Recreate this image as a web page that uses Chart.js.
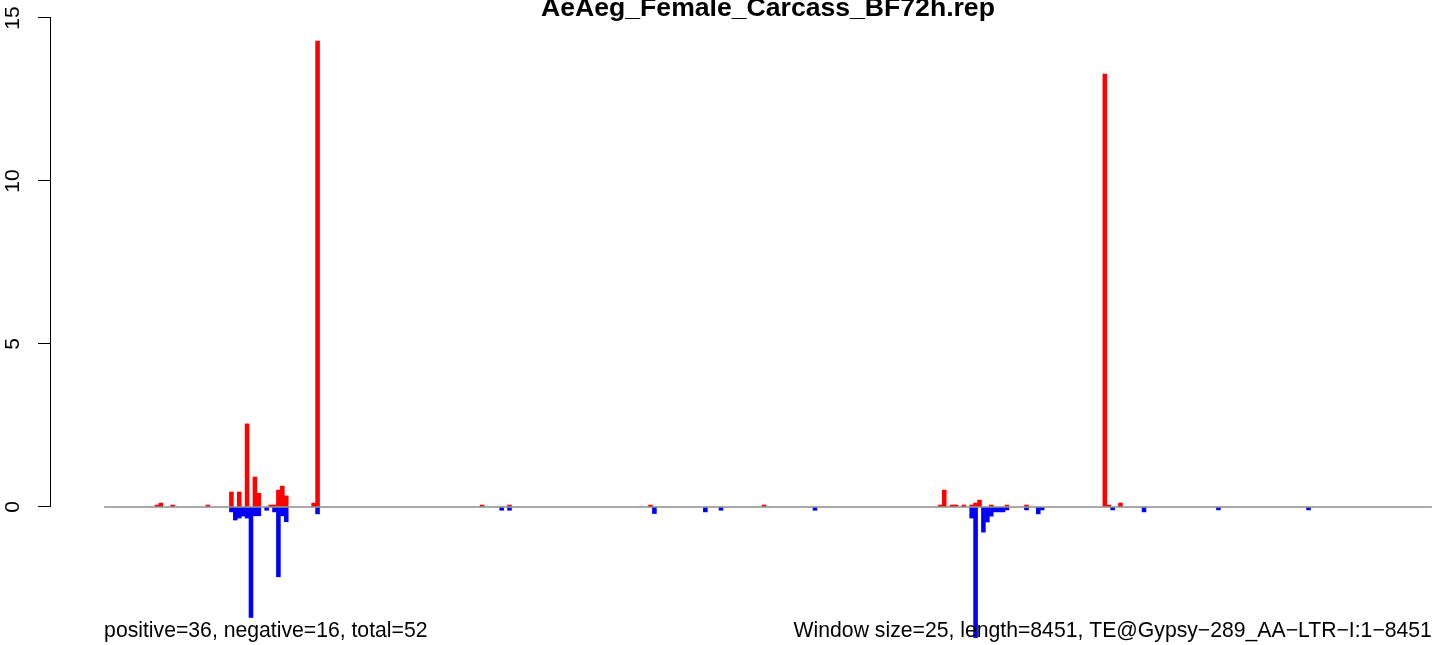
<!DOCTYPE html>
<html lang="en">
<head>
<meta charset="UTF-8">
<title>AeAeg_Female_Carcass_BF72h.rep</title>
<script src="https://cdn.jsdelivr.net/npm/chart.js"></script>
<style>
  html, body { margin: 0; padding: 0; background: #fff; }
  #wrap { width: 1444px; height: 645px; }
</style>
</head>
<body>
<div id="wrap"><canvas id="chart" width="1444" height="645"></canvas></div>
<script>
// --- data ---
const chartTitle = 'AeAeg_Female_Carcass_BF72h.rep';
const windowSize = 25;
const seqLength = 8451;
const nBins = Math.ceil(seqLength / windowSize); // 339 windows
const yTicks = [0, 5, 10, 15];

// window index -> coverage, positive strand
const posBins = [13, 14, 17, 26, 32, 34, 36, 38, 39, 42, 43, 44, 45, 46, 53, 54,
                 96, 103, 139, 168,
                 213, 214, 216, 217, 219, 221, 222, 223, 226, 230, 235,
                 255, 256, 259];
const posVals = [0.06, 0.12, 0.06, 0.06, 0.46, 0.46, 2.55, 0.92, 0.42, 0.06, 0.06, 0.52, 0.64, 0.34, 0.12, 14.29,
                 0.06, 0.06, 0.06, 0.06,
                 0.06, 0.52, 0.06, 0.06, 0.06, 0.06, 0.12, 0.21, 0.06, 0.06, 0.06,
                 13.28, 0.06, 0.12];

// negative strand
const negBins = [32, 33, 34, 35, 36, 37, 38, 39, 41, 43, 44, 45, 46, 54,
                 101, 103, 140, 153, 157, 181,
                 221, 222, 224, 225, 226, 227, 228, 229, 230, 235, 238, 239,
                 257, 265, 284, 307];
const negVals = [-0.15, -0.4, -0.34, -0.28, -0.34, -3.39, -0.27, -0.27, -0.1, -0.15, -2.14, -0.27, -0.45, -0.21,
                 -0.1, -0.1, -0.2, -0.15, -0.1, -0.1,
                 -0.34, -4.01, -0.77, -0.46, -0.28, -0.15, -0.15, -0.15, -0.09, -0.09, -0.21, -0.09,
                 -0.09, -0.15, -0.09, -0.09];

const leftNote = 'positive=36, negative=16, total=52';
const rightNote = 'Window size=25, length=8451, TE@Gypsy\u2212289_AA\u2212LTR\u2212I:1\u22128451';

const FONT = '"Liberation Sans", Arial, Helvetica, sans-serif';
Chart.defaults.font.family = FONT;

// R style x range: 4% extension each side, plot region runs past the right edge of the png
const xMin = -0.04 * nBins;
const xMaxFull = nBins * 1.04;
const xMax = xMin + (xMaxFull - xMin) * (1444 - 51) / (1485 - 51);

const rExtras = {
  id: 'rExtras',
  afterDraw(chart) {
    const ctx = chart.ctx;
    const x = chart.scales.x, y = chart.scales.y;
    ctx.save();
    // y axis line only over the tick range, like R's axis()
    ctx.strokeStyle = '#000';
    ctx.lineWidth = 1;
    ctx.beginPath();
    const ax = Math.round(chart.chartArea.left) - 0.5;
    ctx.moveTo(ax, y.getPixelForValue(yTicks[0]));
    ctx.lineTo(ax, y.getPixelForValue(yTicks[yTicks.length - 1]));
    ctx.stroke();

    ctx.fillStyle = '#000';
    ctx.font = 'bold 26.6px ' + FONT;
    ctx.textAlign = 'center';
    ctx.textBaseline = 'alphabetic';
    ctx.fillText(chartTitle, x.getPixelForValue(nBins / 2), 16);

    ctx.font = '21.2px ' + FONT;
    ctx.textAlign = 'left';
    ctx.fillText(leftNote, x.getPixelForValue(0), 637);
    ctx.textAlign = 'right';
    ctx.fillText(rightNote, x.getPixelForValue(nBins), 637);
    ctx.restore();
  }
};

new Chart(document.getElementById('chart'), {
  data: {
    datasets: [
      {
        type: 'line',
        data: [{x: 0, y: 0}, {x: nBins, y: 0}],
        borderColor: '#8c8c8c',
        borderWidth: 1.5,
        pointRadius: 0,
        order: 0
      },
      {
        type: 'bar',
        data: posBins.map((b, i) => ({x: b + 0.5, y: posVals[i]})),
        backgroundColor: '#ff0000',
        borderWidth: 0,
        grouped: false,
        barPercentage: 1,
        categoryPercentage: 1,
        order: 1
      },
      {
        type: 'bar',
        data: negBins.map((b, i) => ({x: b + 0.5, y: negVals[i]})),
        backgroundColor: '#0000ff',
        borderWidth: 0,
        grouped: false,
        barPercentage: 1,
        categoryPercentage: 1,
        order: 1
      }
    ]
  },
  options: {
    responsive: false,
    devicePixelRatio: 1,
    animation: false,
    layout: { padding: { top: 17, right: 0, bottom: 0, left: 0 } },
    plugins: { legend: { display: false }, tooltip: { enabled: false } },
    scales: {
      x: { type: 'linear', min: xMin, max: xMax, offset: false, display: false },
      y: {
        type: 'linear',
        min: -4.233,
        max: 15.03,
        afterBuildTicks: s => { s.ticks = yTicks.map(v => ({value: v})); },
        afterFit: s => { s.width = 51; s.paddingTop = 0; s.paddingBottom = 0; },
        border: { display: false },
        grid: { drawOnChartArea: false, drawTicks: true, tickLength: 13, color: '#000', lineWidth: 1 },
        ticks: {
          color: '#000',
          font: { size: 21 },
          minRotation: 90,
          maxRotation: 90,
          crossAlign: 'center',
          padding: 13
        }
      }
    }
  },
  plugins: [rExtras]
});
</script>
</body>
</html>
